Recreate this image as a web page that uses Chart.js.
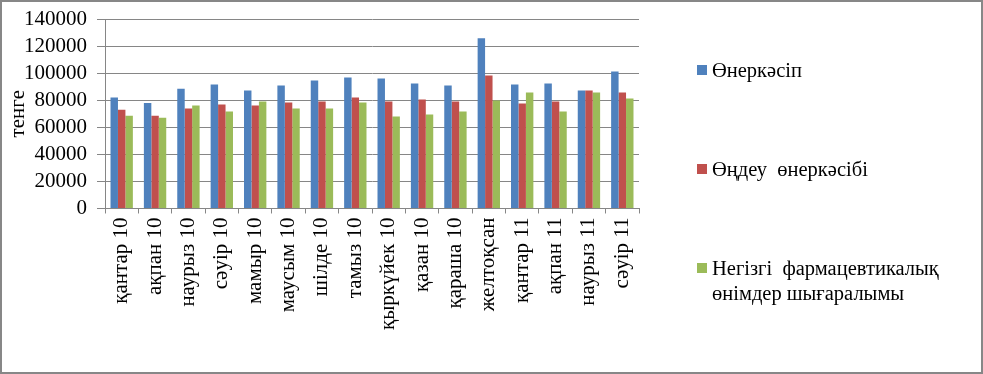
<!DOCTYPE html>
<html>
<head>
<meta charset="utf-8">
<script src="https://cdn.jsdelivr.net/npm/chart.js@4"></script>
<style>
    body { margin: 0; background: #fff; }
    #wrap { position: relative; width: 983px; height: 374px; box-sizing: border-box; border: 2px solid #878787; background: #fff; }
    #chart { position: absolute; left: 0; top: 0; }
    .leg { position: absolute; font-family: "Liberation Serif", serif; font-size: 20.5px; line-height: 25px; color: #000; white-space: pre-wrap; }
    .leg i { position: absolute; left: -15px; top: 7px; width: 10px; height: 10px; }
</style>
</head>
<body>
<div id="wrap">
    <canvas id="chart" width="979" height="370"></canvas>
</div>
<script>
// months (2010 - 2011)
const categories = ['қантар 10', 'ақпан 10', 'наурыз 10', 'сәуір 10', 'мамыр 10', 'маусым 10', 'шілде 10', 'тамыз 10',
    'қыркүйек 10', 'қазан 10', 'қараша 10', 'желтоқсан', 'қантар 11', 'ақпан 11', 'наурыз 11', 'сәуір 11'];
const seriesNames = ['Өнеркәсіп', 'Өңдеу  өнеркәсібі', 'Негізгі  фармацевтикалық өнімдер шығаралымы'];
const industry = [82000, 78000, 88500, 91600, 87200, 90900, 94600, 96800, 96000, 92300, 90900, 125700, 91600, 92300, 87200, 101200];
const manufacturing = [73000, 68600, 73800, 76800, 76000, 78300, 79000, 82000, 79000, 80500, 79000, 98300, 77500, 79000, 87200, 85700];
const pharma = [68500, 67100, 76000, 71600, 79000, 73800, 73800, 78300, 67900, 69400, 71600, 79700, 85700, 71600, 85700, 81200];
const yTicks = [0, 20000, 40000, 60000, 80000, 100000, 120000, 140000];
const colors = ['#4F81BD', '#C0504D', '#9BBB59'];

const font = { family: 'Liberation Serif', size: 21 };
const gridGray = '#868686';

new Chart(document.getElementById('chart'), {
    type: 'bar',
    data: {
        labels: categories,
        datasets: [industry, manufacturing, pharma].map((d, i) => ({
            label: seriesNames[i],
            data: d,
            backgroundColor: colors[i],
            categoryPercentage: 0.67,
            barPercentage: 1
        }))
    },
    options: {
        responsive: false,
        animation: false,
        layout: { padding: { left: 0, right: 342, top: 17, bottom: 38 } },
        plugins: { legend: { display: false }, tooltip: { enabled: false } },
        scales: {
            x: {
                grid: { drawOnChartArea: false, tickLength: 5, color: gridGray, offset: true },
                border: { color: gridGray },
                ticks: { font: font, color: '#000', minRotation: 90, maxRotation: 90, autoSkip: false, padding: 4 }
            },
            y: {
                min: 0,
                max: 140000,
                afterBuildTicks: axis => { axis.ticks = yTicks.map(v => ({ value: v })); },
                afterFit: axis => { axis.width = 103; axis.paddingTop = 0; axis.paddingBottom = 0; },
                grid: { color: gridGray, tickLength: 8 },
                border: { color: gridGray },
                ticks: { font: font, color: '#000', padding: 10, autoSkip: false, callback: v => String(v) },
                title: { display: true, text: 'тенге', font: { family: 'Liberation Serif', size: 21, lineHeight: 1 }, color: '#000', padding: { top: 6, bottom: 0 } }
            }
        }
    }
});

// legend on the right, spaced like the original
const legTop = [56, 155, 254];
seriesNames.forEach((name, i) => {
    const el = document.createElement('div');
    el.className = 'leg';
    el.style.left = '710px';
    el.style.top = legTop[i] + 'px';
    el.style.width = i === 2 ? '245px' : 'auto';
    el.innerHTML = '<i style="background:' + colors[i] + '"></i>';
    el.appendChild(document.createTextNode(name));
    document.getElementById('wrap').appendChild(el);
});
</script>
</body>
</html>
